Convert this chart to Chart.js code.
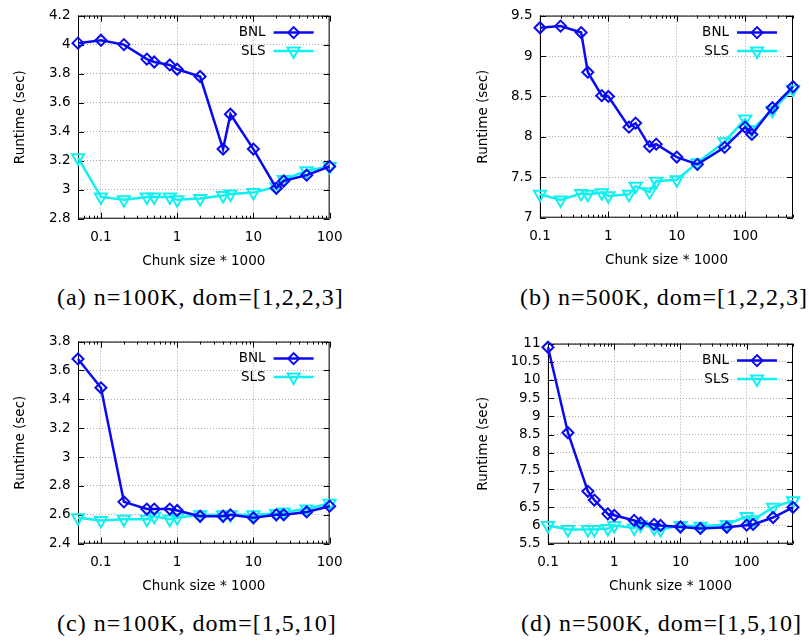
<!DOCTYPE html>
<html>
<head>
<meta charset="utf-8">
<script src="https://cdn.jsdelivr.net/npm/chart.js@4.4.1/dist/chart.umd.min.js"></script>
<style>
  html, body { margin: 0; padding: 0; background: #fff; }
  body { width: 809px; height: 644px; position: relative; overflow: hidden; }
  canvas { position: absolute; }
  .cap {
    position: absolute;
    font-family: "Liberation Serif", serif;
    font-size: 24px;
    letter-spacing: 1px;
    line-height: 1;
    white-space: nowrap;
    color: #000;
  }
</style>
</head>
<body>
<div class="cap" style="left:57px;top:285px">(a) n=100K, dom=[1,2,2,3]</div>
<div class="cap" style="left:520px;top:285px">(b) n=500K, dom=[1,2,2,3]</div>
<div class="cap" style="left:57px;top:611px">(c) n=100K, dom=[1,5,10]</div>
<div class="cap" style="left:521px;top:611px">(d) n=500K, dom=[1,5,10]</div>

<script>
// chunk sizes (x 1000)
const chunks100K = [0.05, 0.1, 0.2, 0.4, 0.5, 0.8, 1, 2, 4, 5, 10, 20, 25, 50, 100];
const chunks500K = [0.1, 0.2, 0.4, 0.5, 0.8, 1, 2, 2.5, 4, 5, 10, 20, 50, 100, 125, 250, 500];

// (a) n=100K, dom=[1,2,2,3]
const bnlA = [4.01, 4.03, 4.00, 3.90, 3.88, 3.86, 3.83, 3.78, 3.28, 3.52, 3.28, 3.01, 3.06, 3.10, 3.16];
const slsA = [3.22, 2.95, 2.93, 2.95, 2.95, 2.95, 2.93, 2.94, 2.96, 2.97, 2.98, 3.02, 3.07, 3.13, 3.16];
// (b) n=500K, dom=[1,2,2,3]
const bnlB = [9.35, 9.37, 9.29, 8.80, 8.51, 8.50, 8.12, 8.17, 7.88, 7.91, 7.75, 7.66, 7.87, 8.12, 8.03, 8.36, 8.62];
const slsB = [7.29, 7.22, 7.30, 7.29, 7.31, 7.27, 7.29, 7.39, 7.32, 7.45, 7.47, 7.68, 7.94, 8.22, 8.09, 8.33, 8.59];
// (c) n=100K, dom=[1,5,10]
const bnlC = [3.68, 3.48, 2.69, 2.64, 2.64, 2.64, 2.63, 2.59, 2.59, 2.60, 2.58, 2.60, 2.60, 2.62, 2.66];
const slsC = [2.58, 2.56, 2.57, 2.57, 2.59, 2.57, 2.58, 2.60, 2.60, 2.60, 2.60, 2.61, 2.62, 2.64, 2.68];
// (d) n=500K, dom=[1,5,10]
const bnlD = [10.9, 8.55, 6.94, 6.70, 6.32, 6.28, 6.14, 6.07, 6.03, 6.00, 5.96, 5.92, 5.95, 6.01, 6.03, 6.22, 6.50];
const slsD = [6.00, 5.89, 5.89, 5.89, 5.92, 6.00, 5.93, 6.02, 5.93, 5.89, 6.00, 5.98, 6.03, 6.25, 6.16, 6.50, 6.68];

// tick labels
const xTicks = [0.1, 1, 10, 100];
const yTicksA = [2.8, 3, 3.2, 3.4, 3.6, 3.8, 4, 4.2];
const yTicksB = [7, 7.5, 8, 8.5, 9, 9.5];
const yTicksC = [2.4, 2.6, 2.8, 3, 3.2, 3.4, 3.6, 3.8];
const yTicksD = [5.5, 6, 6.5, 7, 7.5, 8, 8.5, 9, 9.5, 10, 10.5, 11];

const seriesNames = ["BNL", "SLS"];

const BLUE = "#0a0af2";
const CYAN = "#10f0f0";
const GRID = "#aaaaaa";
const FONT = { family: "DejaVu Sans", size: 13.5 };

const framePlugin = {
  id: "frame",
  beforeDatasetsDraw(chart) {
    const { ctx, chartArea: a, scales: { x, y } } = chart;
    ctx.save();
    ctx.strokeStyle = "#000";
    ctx.lineWidth = 1;
    ctx.strokeRect(a.left + 0.5, a.top + 0.5, a.right - a.left - 1, a.bottom - a.top - 1);
    ctx.beginPath();
    y.ticks.forEach((t) => {
      const py = Math.round(y.getPixelForValue(t.value)) + 0.5;
      ctx.moveTo(a.left, py); ctx.lineTo(a.left + 6, py);
      ctx.moveTo(a.right, py); ctx.lineTo(a.right - 6, py);
    });
    const lo = Math.floor(Math.log10(x.min));
    const hi = Math.ceil(Math.log10(x.max));
    for (let e = lo; e <= hi; e++) {
      for (let m = 1; m < 10; m++) {
        const v = m * Math.pow(10, e);
        if (v < x.min * 0.999 || v > x.max * 1.001) continue;
        const len = m === 1 ? 6 : 3;
        const px = Math.round(x.getPixelForValue(v)) + 0.5;
        ctx.moveTo(px, a.bottom); ctx.lineTo(px, a.bottom - len);
        ctx.moveTo(px, a.top); ctx.lineTo(px, a.top + len);
      }
    }
    ctx.stroke();
    ctx.restore();
  },
};

const keyPlugin = {
  id: "key",
  afterDraw(chart) {
    const { ctx, chartArea: a } = chart;
    chart.data.datasets.forEach((ds, i) => {
      const yy = a.top + 17 + i * 18.5;
      ctx.save();
      ctx.font = '13.5px "DejaVu Sans"';
      ctx.fillStyle = "#000";
      ctx.textAlign = "right";
      ctx.textBaseline = "middle";
      ctx.fillText(ds.label, a.right - 64, yy);
      ctx.strokeStyle = ds.borderColor;
      ctx.lineWidth = ds.borderWidth;
      ctx.beginPath();
      ctx.moveTo(a.right - 56, yy);
      ctx.lineTo(a.right - 16, yy);
      ctx.stroke();
      ctx.fillStyle = "rgba(0,0,0,0)";
      ctx.lineWidth = ds.pointBorderWidth;
      Chart.helpers.drawPoint(ctx, {
        pointStyle: ds.pointStyle,
        rotation: ds.pointRotation || 0,
        radius: ds.pointRadius,
        borderWidth: ds.pointBorderWidth,
      }, a.right - 36, yy);
      ctx.restore();
    });
  },
};

function toPoints(xs, ys) {
  return xs.map((x, i) => ({ x, y: ys[i] }));
}

function makePanel(p) {
  const Wy = (p.L - p.titleX) + 8.1;
  const Hx = 51.3;
  const left = Math.floor(p.L - Wy - 4);
  const padL = p.L - Wy - left;
  const padT = 14, padR = 22, padB = 2;
  const top = p.T - padT;
  const width = p.R + padR - left;
  const height = Math.ceil((p.B - p.T) + padT + Hx + padB);

  const canvas = document.createElement("canvas");
  canvas.width = width;
  canvas.height = height;
  canvas.style.left = left + "px";
  canvas.style.top = top + "px";
  canvas.style.width = width + "px";
  canvas.style.height = height + "px";
  document.body.appendChild(canvas);

  return new Chart(canvas, {
    type: "line",
    data: {
      datasets: [
        {
          label: seriesNames[0],
          data: toPoints(p.x, p.bnl),
          borderColor: BLUE,
          borderWidth: 2.5,
          pointStyle: "rectRot",
          pointRadius: 5.5,
          pointBorderWidth: 2,
          pointBorderColor: BLUE,
          pointBackgroundColor: "rgba(0,0,0,0)",
          clip: false,
        },
        {
          label: seriesNames[1],
          data: toPoints(p.x, p.sls),
          borderColor: CYAN,
          borderWidth: 2.5,
          pointStyle: "triangle",
          pointRotation: 180,
          pointRadius: 7,
          pointBorderWidth: 2,
          pointBorderColor: CYAN,
          pointBackgroundColor: "rgba(0,0,0,0)",
          clip: false,
        },
      ],
    },
    options: {
      responsive: false,
      animation: false,
      devicePixelRatio: 1,
      layout: { padding: { left: padL, right: padR, top: padT, bottom: padB } },
      plugins: { legend: { display: false }, tooltip: { enabled: false } },
      elements: { line: { tension: 0 } },
      scales: {
        x: {
          type: "logarithmic",
          min: p.xMin,
          max: p.xMax,
          afterBuildTicks: (s) => { s.ticks = xTicks.map((v) => ({ value: v })); },
          afterFit: (s) => { s.height = Hx; },
          ticks: { callback: (v) => String(v), padding: 10.5, font: FONT, color: "#000", maxRotation: 0, autoSkip: false },
          grid: { color: GRID, drawTicks: false, lineWidth: 1 },
          border: { display: false, dash: [1, 2] },
          title: { display: true, text: "Chunk size * 1000", font: FONT, color: "#000", padding: 0 },
        },
        y: {
          type: "linear",
          min: p.yTicks[0],
          max: p.yTicks[p.yTicks.length - 1],
          afterBuildTicks: (s) => { s.ticks = p.yTicks.map((v) => ({ value: v })); },
          afterFit: (s) => { s.width = Wy; },
          ticks: { callback: (v) => String(v), padding: 7.5, font: FONT, color: "#000", autoSkip: false },
          grid: { color: GRID, drawTicks: false, lineWidth: 1 },
          border: { display: false, dash: [1, 2] },
          title: { display: true, text: "Runtime (sec)", font: FONT, color: "#000", padding: 0 },
        },
      },
    },
    plugins: [framePlugin, keyPlugin],
  });
}

makePanel({ L: 78, T: 14, R: 331, B: 218, titleX: 20, x: chunks100K, bnl: bnlA, sls: slsA, xMin: 0.05, xMax: 100, yTicks: yTicksA });
makePanel({ L: 540, T: 14, R: 793, B: 217, titleX: 483, x: chunks500K, bnl: bnlB, sls: slsB, xMin: 0.1, xMax: 500, yTicks: yTicksB });
makePanel({ L: 78, T: 340, R: 331, B: 543, titleX: 20, x: chunks100K, bnl: bnlC, sls: slsC, xMin: 0.05, xMax: 100, yTicks: yTicksC });
makePanel({ L: 548, T: 342, R: 793, B: 543, titleX: 483, x: chunks500K, bnl: bnlD, sls: slsD, xMin: 0.1, xMax: 500, yTicks: yTicksD });
</script>
</body>
</html>
